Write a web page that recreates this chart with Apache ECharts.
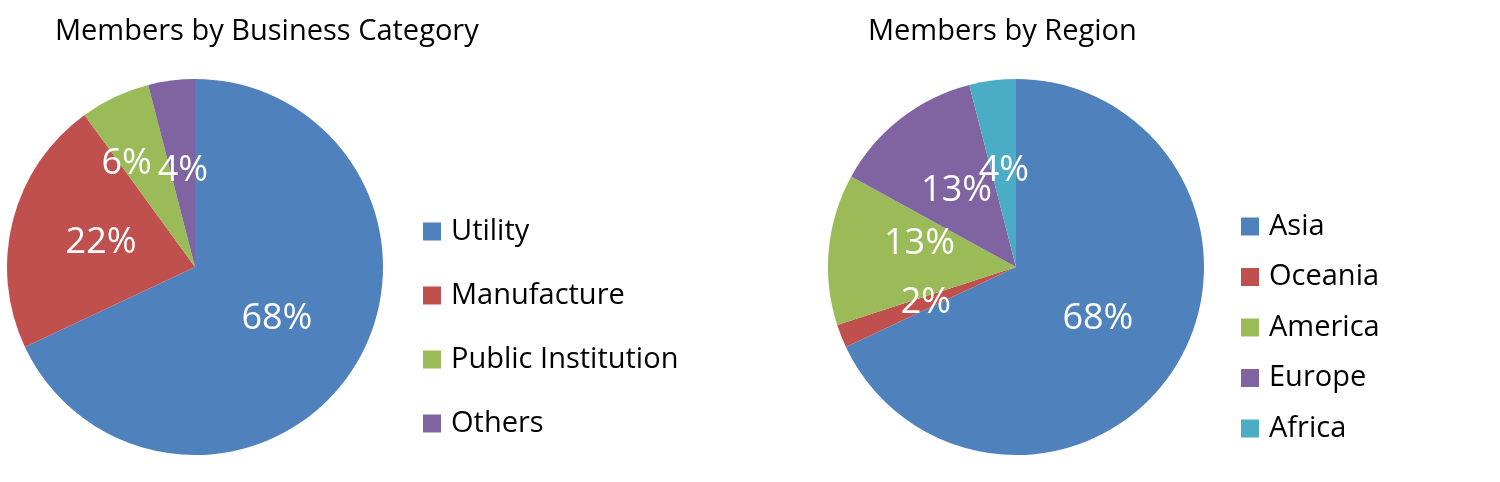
<!DOCTYPE html>
<html>
<head>
<meta charset="utf-8">
<script src="https://cdn.jsdelivr.net/npm/echarts@6/dist/echarts.min.js"></script>
<style>
  html, body { margin: 0; padding: 0; background: #fff; }
  #chart { width: 1500px; height: 482px; }
</style>
</head>
<body>
<div id="chart"></div>
<script>
// Members by Business Category
const categoryNames = ['Utility', 'Manufacture', 'Public Institution', 'Others']
const categoryShares = [68, 22, 6, 4]

// Members by Region
const regionNames = ['Asia', 'Oceania', 'America', 'Europe', 'Africa']
const regionShares = [68, 2, 13, 13, 4]

const colors = ['#4F81BD', '#C0504D', '#9BBB59', '#8064A2', '#4BACC6']
const font = '"Open Sans", "Noto Sans", sans-serif'

const chart = echarts.init(document.getElementById('chart'))

// small label nudges, like Excel's best-fit placement
const catNudge = { 2: [-27, -15] }
const regNudge = { 2: [0, -14] }

function pieSeries(names, values, center, nudge) {
  return {
    type: 'pie',
    center: center,
    radius: 188,
    startAngle: 90,
    clockwise: true,
    silent: true,
    animation: false,
    data: names.map((n, i) => ({ name: n, value: values[i], itemStyle: { color: colors[i] } })),
    label: {
      position: 'inside',
      formatter: '{c}%',
      color: '#fff',
      fontSize: 36,
      fontFamily: font
    },
    labelLine: { show: false },
    labelLayout: p => {
      const d = nudge[p.dataIndex]
      return d ? { dx: d[0], dy: d[1] } : {}
    },
    itemStyle: { borderWidth: 0 }
  }
}

const titleStyle = { fontFamily: font, fontSize: 29, fontWeight: 'normal', color: '#000' }
const legendText = { fontFamily: font, fontSize: 29, color: '#000', padding: [0, 0, 0, 5] }

chart.setOption({
  animation: false,
  title: [
    { text: 'Members by Business Category', left: 50, top: 12, textStyle: titleStyle },
    { text: 'Members by Region', left: 863, top: 12, textStyle: titleStyle }
  ],
  legend: [
    {
      data: categoryNames,
      orient: 'vertical',
      left: 418, top: 212,
      icon: 'rect', itemWidth: 18, itemHeight: 18, itemGap: 35,
      textStyle: legendText,
      selectedMode: false
    },
    {
      data: regionNames,
      orient: 'vertical',
      left: 1236, top: 207,
      icon: 'rect', itemWidth: 18, itemHeight: 18, itemGap: 21.5,
      textStyle: legendText,
      selectedMode: false
    }
  ],
  series: [
    pieSeries(categoryNames, categoryShares, [195, 267], catNudge),
    pieSeries(regionNames, regionShares, [1016, 267], regNudge)
  ]
})
</script>
</body>
</html>
